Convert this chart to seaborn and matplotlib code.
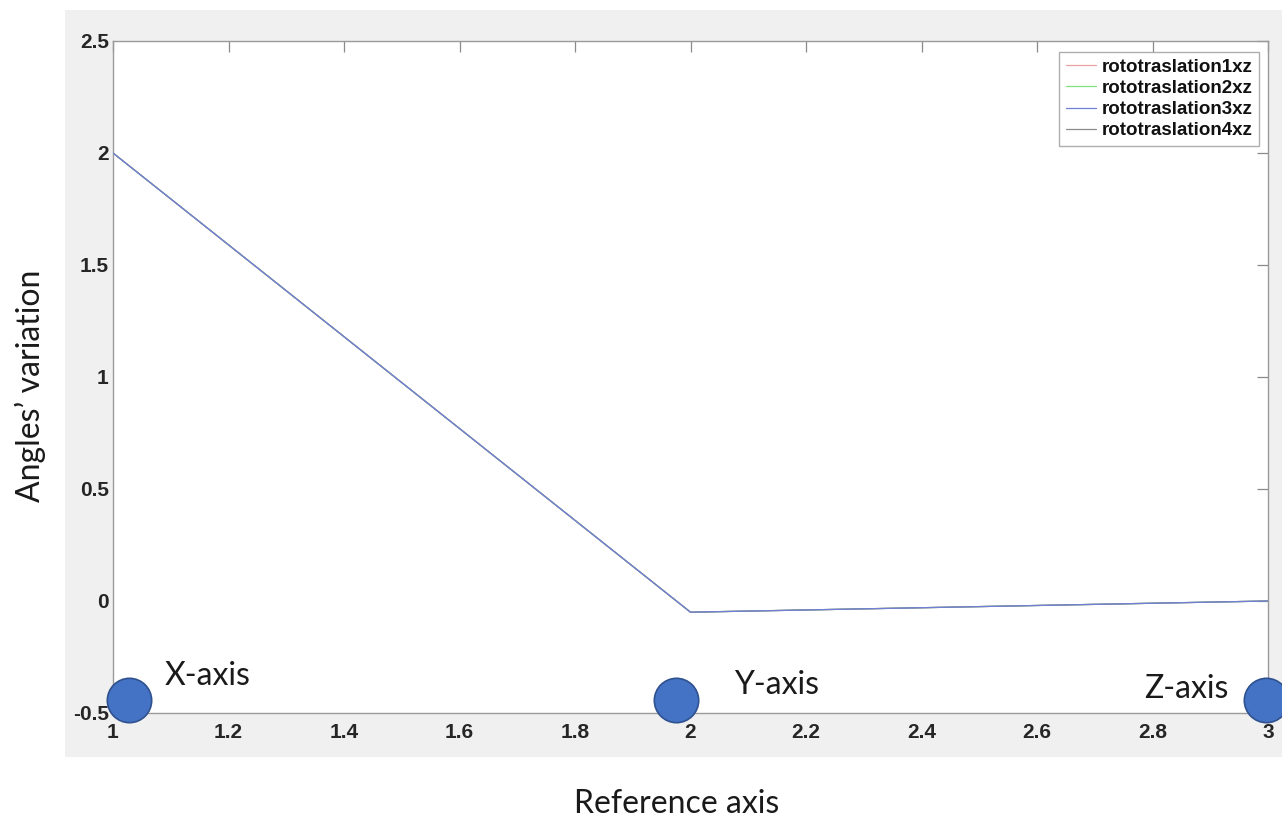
import matplotlib
matplotlib.use("Agg")
import matplotlib.pyplot as plt
from matplotlib.patches import Rectangle
import seaborn as sns
import pandas as pd

# ---- data ----
x_values = [1, 2, 3]
series_names = ["rototraslation1xz", "rototraslation2xz", "rototraslation3xz", "rototraslation4xz"]
series1 = [2.0, -0.05, 0.0]
series2 = [2.0, -0.05, 0.0]
series3 = [2.0, -0.05, 0.0]
series4 = [2.0, -0.05, 0.0]
series_colors = ["#e8a0a0", "#7ee07e", "#6f7fd8", "#8c8c8c"]

axis_marker_x = [1.028, 1.975, 2.997]
axis_marker_y = [-0.44, -0.44, -0.44]
axis_labels = ["X-axis", "Y-axis", "Z-axis"]
axis_label_x = [1.09, 2.075, 2.785]
axis_label_y = [-0.335, -0.375, -0.395]

x_ticks = [1, 1.2, 1.4, 1.6, 1.8, 2, 2.2, 2.4, 2.6, 2.8, 3]
y_ticks = [-0.5, 0, 0.5, 1, 1.5, 2, 2.5]

rows = []
for name, vals in zip(series_names, [series1, series2, series3, series4]):
    for xv, yv in zip(x_values, vals):
        rows.append({"x": xv, "y": yv, "series": name})
df = pd.DataFrame(rows)

sns.set_style("white")
plt.rcParams["font.family"] = ["Liberation Sans", "DejaVu Sans"]

W, H = 1282, 819
fig = plt.figure(figsize=(W / 100, H / 100), dpi=100, facecolor="white")
# grey MATLAB figure background
fig.patches.append(Rectangle((65 / W, 1 - 757 / H), (W - 65) / W, (757 - 10) / H,
                             transform=fig.transFigure, facecolor="#f0f0f0",
                             edgecolor="none", zorder=-10))
ax = fig.add_axes([113 / W, 1 - 713 / H, (1268 - 113) / W, (713 - 41) / H])
ax.set_zorder(1)
ax.set_facecolor("white")

sns.lineplot(data=df, x="x", y="y", hue="series", palette=series_colors,
             hue_order=series_names, linewidth=0.9, ax=ax, legend=True)
# blue on top, as in the reference
for line, z in zip(ax.get_lines(), [2, 3, 5, 4]):
    line.set_zorder(z)

ax.set_xlim(1, 3)
ax.set_ylim(-0.5, 2.5)
ax.set_xticks(x_ticks)
ax.set_xticklabels([f"{t:g}" for t in x_ticks])
ax.set_yticks(y_ticks)
ax.set_yticklabels([f"{t:g}" for t in y_ticks])
ax.tick_params(direction="in", length=8, width=0.9, color="#8a8a8a",
               top=True, right=True, labelsize=15)
ax.tick_params(axis="x", pad=7)
ax.tick_params(axis="y", pad=3)
for lab in ax.get_xticklabels() + ax.get_yticklabels():
    lab.set_fontweight("bold")
    lab.set_color("#262626")
for sp in ax.spines.values():
    sp.set_color("#9a9a9a")
    sp.set_linewidth(1.0)
ax.set_xlabel("")
ax.set_ylabel("")

leg = ax.legend(loc="upper right", bbox_to_anchor=(1 - 9 / 1155, 1 - 11 / 672),
                borderaxespad=0, frameon=True,
                fancybox=False, edgecolor="#9a9a9a", fontsize=13.5,
                handlelength=1.6, handletextpad=0.3, borderpad=0.35,
                labelspacing=0.22)
leg.get_frame().set_linewidth(1.0)
for t in leg.get_texts():
    t.set_fontweight("bold")
    t.set_color("#111111")
for h in leg.get_lines():
    h.set_linewidth(0.9)

# blue axis markers
ax.scatter(axis_marker_x, axis_marker_y, s=1020, color="#4472c4",
           edgecolor="#2f528f", linewidth=1.2, clip_on=False, zorder=10)
for lx, ly, txt in zip(axis_label_x, axis_label_y, axis_labels):
    ax.text(lx, ly, txt, fontsize=23, family=["Lato", "DejaVu Sans"],
            color="#1a1a1a", ha="left", va="center", zorder=11, clip_on=False)

fig.text(30 / W, 1 - 386 / H, "Angles\u2019 variation", rotation=90,
         fontsize=23, family=["Lato", "DejaVu Sans"], ha="center", va="center",
         color="#1a1a1a")
fig.text(677 / W, 1 - 804 / H, "Reference axis", fontsize=23,
         family=["Lato", "DejaVu Sans"], ha="center", va="center", color="#1a1a1a")

fig.savefig("out.png", dpi=100, facecolor="white")
